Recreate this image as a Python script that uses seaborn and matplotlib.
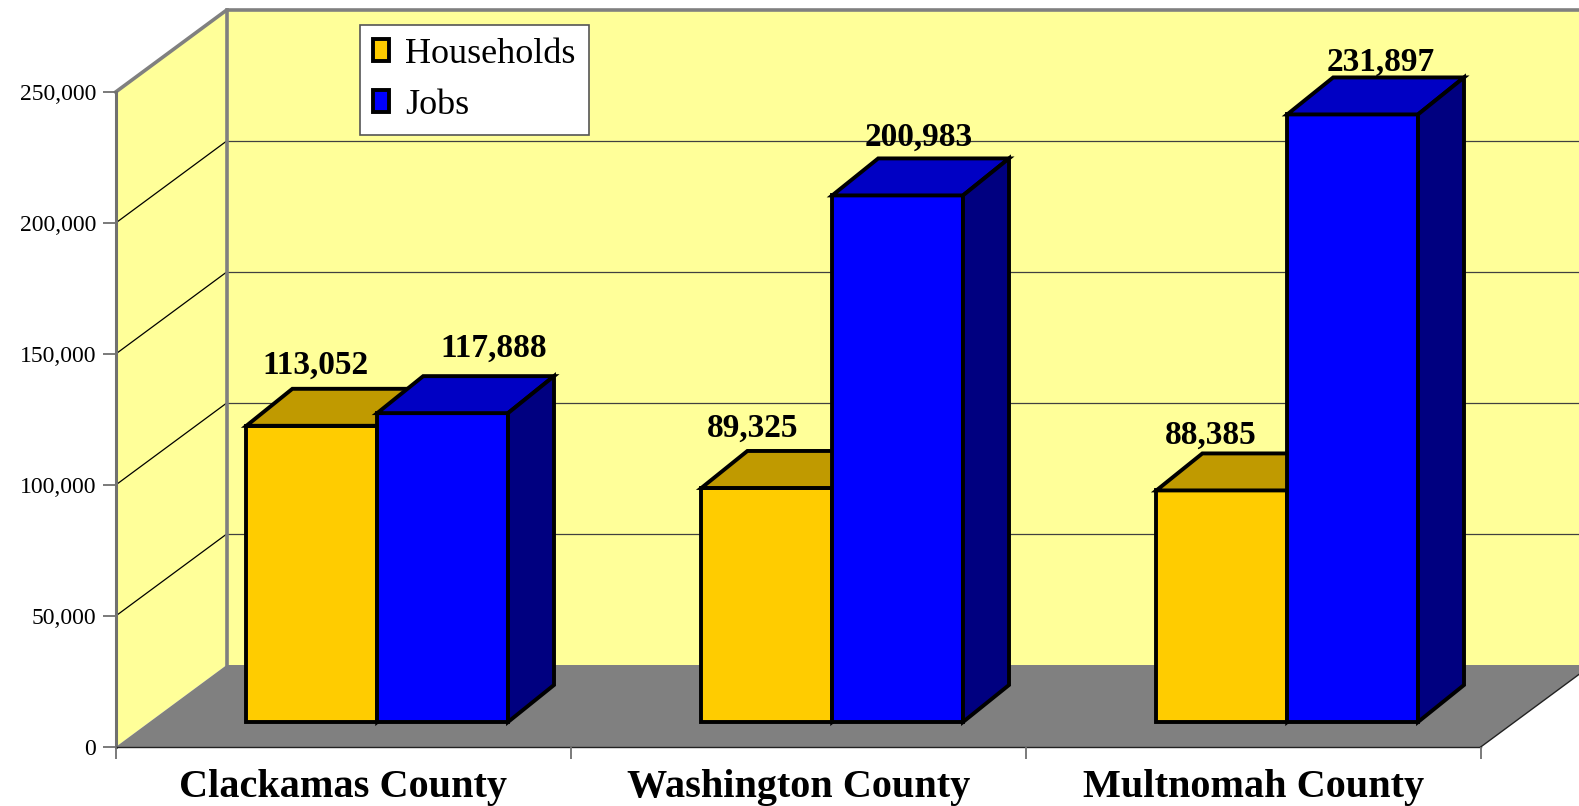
import matplotlib
matplotlib.use("Agg")
import matplotlib.pyplot as plt
import pandas as pd
import seaborn as sns
from matplotlib.patches import Polygon, Rectangle, Patch

# ---------------- data ----------------
counties = ["Clackamas County", "Washington County", "Multnomah County"]
series_names = ["Households", "Jobs"]
households = [113052, 89325, 88385]
jobs = [117888, 200983, 231897]
y_ticks = [0, 50000, 100000, 150000, 200000, 250000]

df = pd.DataFrame({
    "county": counties * 2,
    "series": [series_names[0]] * len(counties) + [series_names[1]] * len(counties),
    "value": households + jobs,
})

# ---------------- style ----------------
WALL = "#FFFF99"
FLOOR = "#808080"
BORDER = "#808080"
FRONT = {"Households": "#FFCC00", "Jobs": "#0000FF"}
TOP = {"Households": "#C09A00", "Jobs": "#0000C4"}
SIDE = {"Households": "#997A00", "Jobs": "#000080"}
EDGE_LW = 2.8

plt.rcParams["font.family"] = ["Liberation Serif", "DejaVu Serif"]

W, H = 1579, 806
fig = plt.figure(figsize=(W / 100, H / 100), dpi=100)

PX_PER_CAT = 455.0
PX_PER_50K = 131.0
AX_LEFT, AX_BOTTOM = 115.7, H - 747
ax = fig.add_axes([AX_LEFT / W, AX_BOTTOM / H, 3 * PX_PER_CAT / W, 5 * PX_PER_50K / H])
ax.patch.set_visible(False)


def px2x(px):
    return px / PX_PER_CAT


def px2y(px):
    return px * 50000.0 / PX_PER_50K


# 3-D offsets (pixels converted to data units)
WDX, WDY = px2x(111), px2y(82)      # wall depth
F0X, F0Y = px2x(34), px2y(25)       # bar front plane
BDX, BDY = px2x(46), px2y(37)       # bar depth

x0, x1 = -0.5, len(counties) - 0.5
ytop = y_ticks[-1]

# side wall, back wall, floor
ax.add_patch(Polygon([(x0, 0), (x0, ytop), (x0 + WDX, ytop + WDY), (x0 + WDX, WDY)],
                     closed=True, fc=WALL, ec="none", zorder=0, clip_on=False))
ax.add_patch(Rectangle((x0 + WDX, WDY), (x1 - x0) + 0.5, ytop, fc=WALL, ec="none",
                       zorder=0, clip_on=False))
ax.add_patch(Polygon([(x0, 0), (x1, 0), (x1 + WDX, WDY), (x0 + WDX, WDY)],
                     closed=True, fc=FLOOR, ec="none", zorder=0.5, clip_on=False))
ax.plot([x1, x1 + WDX], [0, WDY], color="#222222", lw=1.0, zorder=0.6, clip_on=False)

# gridlines
for v in y_ticks[1:-1]:
    ax.plot([x0, x0 + WDX], [v, v + WDY], color="black", lw=0.9, zorder=0.3, clip_on=False)
    ax.plot([x0 + WDX, x1 + WDX + 0.5], [v + WDY, v + WDY], color="#404040", lw=0.9,
            zorder=0.3, clip_on=False)

# wall borders
ax.plot([x0, x0 + WDX, x1 + WDX + 0.5], [ytop, ytop + WDY, ytop + WDY], color=BORDER,
        lw=2.6, zorder=0.7, clip_on=False, solid_joinstyle="miter")
ax.plot([x0 + WDX, x0 + WDX], [WDY, ytop + WDY], color=BORDER, lw=2.6, zorder=0.7,
        clip_on=False)

# ---------------- bars ----------------
sns.barplot(data=df, x="county", y="value", hue="series", order=counties,
            hue_order=series_names, palette=[FRONT[s] for s in series_names],
            saturation=1, width=0.575, errorbar=None, edgecolor="black",
            linewidth=EDGE_LW, legend=False, ax=ax)

label_dx_px = {"Households": [-19, -37, -34], "Jobs": [28, -1.5, 5]}
label_dy_px = {"Households": [15, 14, 10], "Jobs": [19, 13, 7]}

for si, (container, sname) in enumerate(zip(ax.containers, series_names)):
    z = 3 + si
    for ci, rect in enumerate(container):
        val = rect.get_height()
        rect.set_x(rect.get_x() + F0X)
        rect.set_y(F0Y)
        rect.set_zorder(z)
        rect.set_clip_on(False)
        rect.set_joinstyle("miter")
        bx, by, bw = rect.get_x(), rect.get_y(), rect.get_width()
        top = by + val
        ax.add_patch(Polygon([(bx, top), (bx + bw, top), (bx + bw + BDX, top + BDY),
                              (bx + BDX, top + BDY)], closed=True, fc=TOP[sname],
                             ec="black", lw=EDGE_LW, zorder=z, clip_on=False,
                             joinstyle="miter"))
        ax.add_patch(Polygon([(bx + bw, by), (bx + bw + BDX, by + BDY),
                              (bx + bw + BDX, top + BDY), (bx + bw, top)], closed=True,
                             fc=SIDE[sname], ec="black", lw=EDGE_LW, zorder=z,
                             clip_on=False, joinstyle="miter"))
        lx = bx + bw / 2 + BDX / 2 + px2x(label_dx_px[sname][ci])
        ly = top + BDY + px2y(label_dy_px[sname][ci])
        ax.text(lx, ly, f"{int(val):,}", ha="center", va="baseline", fontsize=24,
                fontweight="bold", color="black", zorder=10, clip_on=False)

# ---------------- axes ----------------
ax.set_xlim(x0, x1)
ax.set_ylim(0, ytop)
ax.set_xlabel("")
ax.set_ylabel("")
for s in ["top", "right"]:
    ax.spines[s].set_visible(False)
ax.spines["left"].set_color("#707070")
ax.spines["left"].set_linewidth(2.2)
ax.spines["left"].set_zorder(0.8)
ax.spines["bottom"].set_color("#222222")
ax.spines["bottom"].set_linewidth(1.0)
ax.spines["bottom"].set_zorder(0.8)

ax.set_yticks(y_ticks)
ax.set_yticklabels([f"{v:,}" for v in y_ticks])
ax.tick_params(axis="y", which="major", left=True, length=9.4, width=1.3,
               color="#707070", pad=4.8, labelsize=17, labelcolor="black")

ax.set_xticks(range(len(counties)))
ax.set_xticklabels(counties, fontsize=29, fontweight="bold")
ax.set_xticks([x0 + i for i in range(len(counties) + 1)], minor=True)
ax.tick_params(axis="x", which="major", bottom=True, length=0, pad=16, labelcolor="black")
ax.tick_params(axis="x", which="minor", bottom=True, length=8.6, width=1.3, color="#707070")

# ---------------- legend ----------------
handles = [Patch(fc=FRONT[s], ec="black", lw=EDGE_LW) for s in series_names]
leg = fig.legend(handles, series_names, loc="upper left",
                 bbox_to_anchor=(360 / W, 1 - 25 / H), bbox_transform=fig.transFigure,
                 frameon=True, fancybox=False, edgecolor="#555555", framealpha=1,
                 fontsize=26, handlelength=0.45, handleheight=0.55, handletextpad=0.45,
                 borderpad=0.36, labelspacing=0.5, borderaxespad=0)
leg.get_frame().set_linewidth(1.2)

fig.savefig("out.png", dpi=100)
